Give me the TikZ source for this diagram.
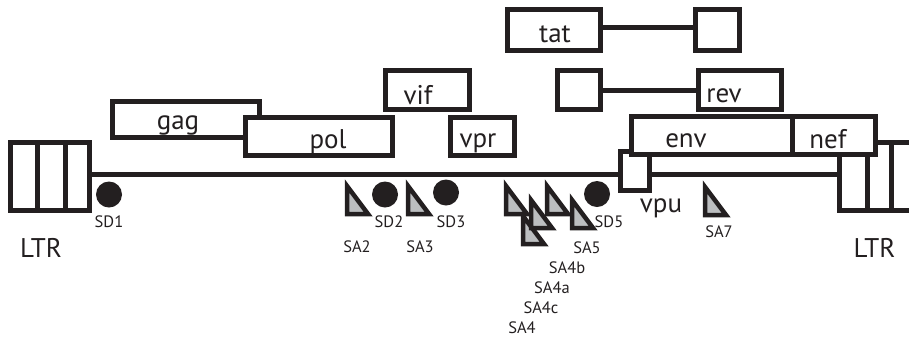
\documentclass[tikz,border=0pt]{standalone}
\usepackage{fontspec}
\setmainfont{PT Sans}
\definecolor{ink}{HTML}{231F20}
\definecolor{sitegray}{HTML}{BCBEC0}
\tikzset{
  gene/.style={draw=ink, fill=white, line width=5pt, rectangle, inner sep=0pt, outer sep=0pt},
  genename/.style={font=\fontsize{27}{30}\selectfont, text=ink, inner sep=0pt, anchor=base},
  sitename/.style={font=\fontsize{16.5}{19}\selectfont, text=ink, inner sep=0pt, anchor=base},
  donor/.style={circle, fill=ink, minimum size=26pt, inner sep=0pt},
  acceptor/.style={draw=ink, fill=sitegray, line width=4.5pt, miter limit=10},
  link/.style={draw=ink, line width=5pt},
}
\begin{document}
\begin{tikzpicture}
  \begin{scope}[x=1pt, y=-1pt]
    \clip (0,0) rectangle (909,341);
    \node [gene, minimum width=79, minimum height=68] (ltrL) at (50,176.5) {};
    \node [gene, minimum width=79, minimum height=68] (ltrR) at (879,176.5) {};
    \draw [link, line width=5.5pt] (ltrL.east |- 0,174.5) -- (ltrR.west |- 0,174.5);
    \draw [link] ([xshift=27pt]ltrL.north west) -- ([xshift=27pt]ltrL.south west);
    \draw [link] ([xshift=55pt]ltrL.north west) -- ([xshift=55pt]ltrL.south west);
    \draw [link] ([xshift=27.5pt]ltrR.north west) -- ([xshift=27.5pt]ltrR.south west);
    \draw [link] ([xshift=51.5pt]ltrR.north west) -- ([xshift=51.5pt]ltrR.south west);

    \node [gene, minimum width=147, minimum height=36] (gag) at (186,119.5) {};
    \node [gene, minimum width=147, minimum height=38] (pol) at (319,136.5) {};
    \node [gene, minimum width=84, minimum height=39] (vif) at (427.5,90) {};
    \node [gene, minimum width=64, minimum height=38] (vpr) at (482.5,136.5) {};

    \node [gene, minimum width=93, minimum height=41] (tat) at (554,30) {};
    \node [gene, minimum width=44, minimum height=41] (tatB) at (717.5,30) {};
    \draw [link] ([yshift=3pt]tat.east) -- ([yshift=3pt]tatB.west);
    \node [gene, minimum width=43, minimum height=39] (revA) at (579,90) {};
    \node [gene, minimum width=83, minimum height=39] (rev) at (740,90) {};
    \draw [link] (revA.east) -- (rev.west);

    \node [gene, minimum width=29, minimum height=39] (vpu) at (635,171) {};
    \node [gene, minimum width=161, minimum height=38] (env) at (712,135.5) {};
    \node [gene, minimum width=83, minimum height=38] (nef) at (834,135.5) {};

    \node [genename] (gagT) at (178,129) {gag};
    \node [genename] (polT) at (328,148) {pol};
    \node [genename] (vifT) at (418,104) {vif};
    \node [genename] (vprT) at (478,147) {vpr};
    \node [genename] (tatT) at (555,42) {tat};
    \node [genename] (revT) at (724,102) {rev};
    \node [genename] (envT) at (686,147) {env};
    \node [genename] (nefT) at (828,148) {nef};
    \node [genename] (vpuT) at (661,212) {vpu};
    \node [genename] (ltrLT) at (41,257) {LTR};
    \node [genename] (ltrRT) at (874.5,257) {LTR};

    \node [donor] (SD1) at (109,194.5) {};
    \node [donor] (SD2) at (385,194.5) {};
    \node [donor] (SD3) at (446,192.5) {};
    \node [donor] (SD5) at (597,194) {};

    \filldraw [acceptor] (347,186) -- ++(0,28) -- ++(21,0) -- cycle;
    \filldraw [acceptor] (408,186) -- ++(0,28) -- ++(21,0) -- cycle;
    \filldraw [acceptor] (523,216) -- ++(0,28) -- ++(21,0) -- cycle;
    \filldraw [acceptor] (506,186) -- ++(0,28) -- ++(21,0) -- cycle;
    \filldraw [acceptor] (531,200) -- ++(0,28) -- ++(21,0) -- cycle;
    \filldraw [acceptor] (547,186) -- ++(0,28) -- ++(21,0) -- cycle;
    \filldraw [acceptor] (572,200) -- ++(0,28) -- ++(21,0) -- cycle;
    \filldraw [acceptor] (705,187) -- ++(0,28) -- ++(21,0) -- cycle;

    \node [sitename] (SD1T) at (109,227) {SD1};
    \node [sitename] (SD2T) at (389,227) {SD2};
    \node [sitename] (SD3T) at (451,227) {SD3};
    \node [sitename] (SD5T) at (609,227) {SD5};
    \node [sitename] (SA2T) at (357,252) {SA2};
    \node [sitename] (SA3T) at (420,252) {SA3};
    \node [sitename] (SA5T) at (587,253) {SA5};
    \node [sitename] (SA4bT) at (567,273) {SA4b};
    \node [sitename] (SA4aT) at (552,293) {SA4a};
    \node [sitename] (SA4cT) at (541,313) {SA4c};
    \node [sitename] (SA4T) at (522,333) {SA4};
    \node [sitename] (SA7T) at (719,237) {SA7};
  \end{scope}
\end{tikzpicture}
\end{document}
